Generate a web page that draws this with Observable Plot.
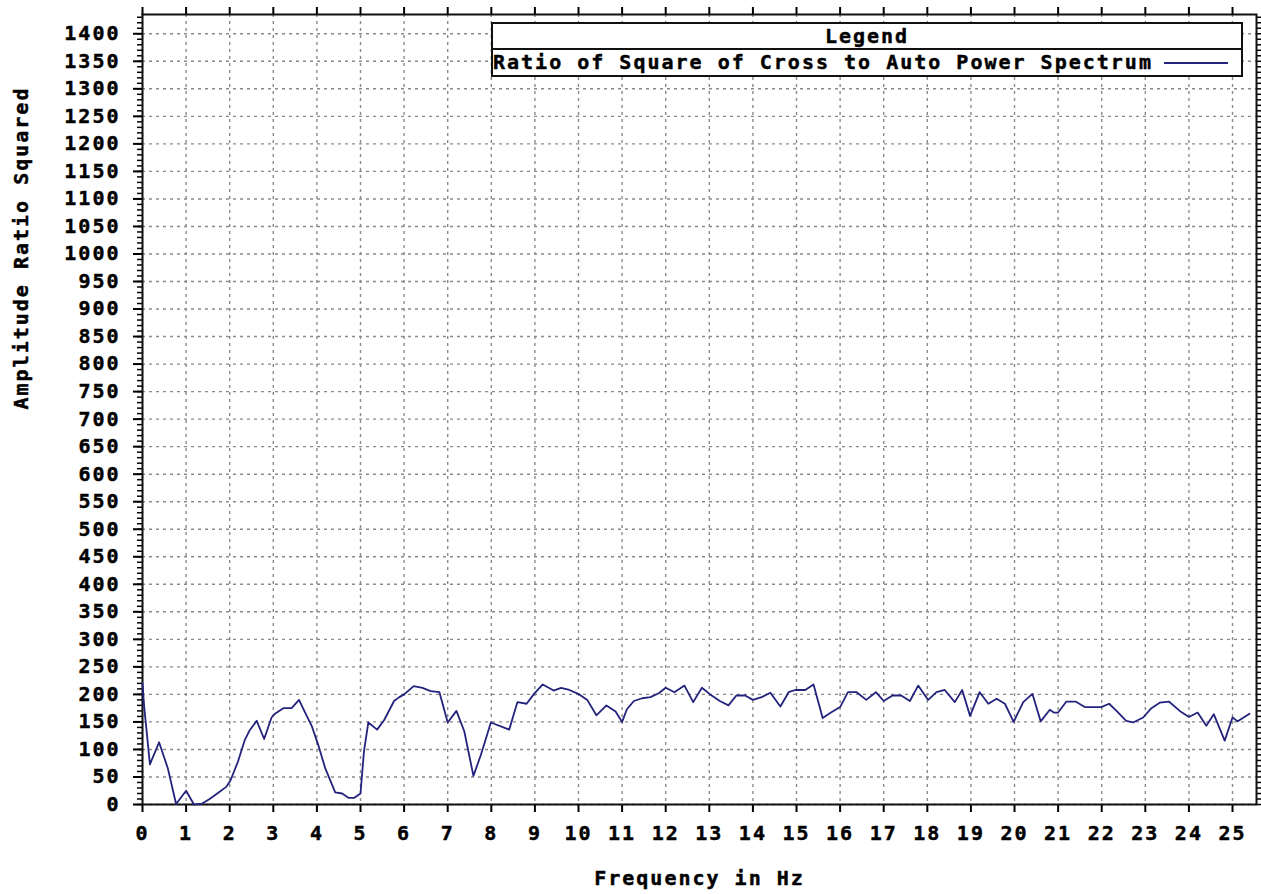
<!DOCTYPE html>
<html>
<head>
<meta charset="utf-8">
<script src="https://cdn.jsdelivr.net/npm/d3@7"></script>
<script src="https://cdn.jsdelivr.net/npm/@observablehq/plot@0.6"></script>
<style>
  html, body { margin: 0; padding: 0; background: #fff; }
  #chart { position: relative; width: 1261px; height: 894px; }
  #chart svg text { stroke: #000; stroke-width: 0.45px; }
  .legend {
    position: absolute; left: 491px; top: 22px; width: 748px;
    border: 2px solid #111; background: #fff;
    font-family: "DejaVu Sans Mono", monospace; font-size: 20px; font-weight: bold;
    letter-spacing: 2px; color: #000; -webkit-text-stroke: 0.45px #000;
  }
  .legend .head { height: 24px; line-height: 25px; text-align: center; border-bottom: 2px solid #111; }
  .legend .row { height: 25px; line-height: 25px; position: relative; padding-left: 0; }
  .legend .swatch { position: absolute; right: 13px; top: 12px; width: 64px; height: 0; border-top: 2px solid #23237d; }
</style>
</head>
<body>
<div id="chart"></div>
<script>
// Spectrum bins: frequency (Hz) and squared cross/auto amplitude ratio
const freqHz = [
  0, 0.04, 0.09, 0.17, 0.38, 0.58, 0.77, 1.0, 1.18, 1.35, 1.54, 1.73, 1.92, 2.02, 2.19, 2.35, 2.46, 2.62, 2.79, 2.96,
  3.04, 3.23, 3.42, 3.59, 3.73, 3.88, 4.04, 4.19, 4.42, 4.58, 4.73, 4.85, 5.0, 5.08, 5.18, 5.38, 5.54, 5.77, 5.89, 6.0,
  6.22, 6.42, 6.61, 6.81, 7.0, 7.2, 7.38, 7.59, 7.76, 7.99, 8.41, 8.6, 8.81, 8.98, 9.18, 9.43, 9.6, 9.79, 10.02, 10.2,
  10.41, 10.64, 10.85, 11.0, 11.11, 11.27, 11.46, 11.65, 11.84, 12.0, 12.2, 12.43, 12.63, 12.83, 13.02, 13.24, 13.44, 13.62, 13.82, 14.0,
  14.2, 14.4, 14.63, 14.82, 14.97, 15.2, 15.39, 15.6, 15.79, 16.0, 16.18, 16.38, 16.6, 16.82, 17.0, 17.2, 17.4, 17.6, 17.79, 18.02,
  18.21, 18.4, 18.63, 18.8, 18.98, 19.2, 19.4, 19.59, 19.78, 19.98, 20.2, 20.41, 20.6, 20.81, 20.9, 21.0, 21.19, 21.4, 21.61, 21.99,
  22.17, 22.34, 22.56, 22.72, 22.95, 23.14, 23.33, 23.54, 23.79, 24.0, 24.2, 24.4, 24.57, 24.82, 25.0, 25.12, 25.39
];
const ratioSquared = [
  220, 176, 137, 73, 113, 66, 1, 25, 0, 1, 10, 21, 32, 44, 78, 118, 135, 152, 119, 158,
  165, 175, 175, 190, 167, 143, 106, 66, 22, 20, 12, 12, 20, 97, 149, 136, 153, 188, 195, 200,
  215, 212, 206, 204, 149, 170, 133, 52, 90, 149, 136, 186, 183, 201, 218, 207, 212, 208, 200, 190,
  162, 180, 169, 150, 173, 188, 193, 195, 202, 212, 204, 216, 186, 212, 200, 188, 180, 198, 198, 190,
  195, 203, 178, 204, 208, 208, 218, 157, 167, 177, 204, 204, 190, 204, 188, 198, 198, 188, 216, 190,
  204, 208, 186, 208, 161, 204, 183, 192, 183, 150, 186, 201, 151, 172, 167, 167, 187, 187, 177, 177,
  183, 170, 152, 149, 158, 175, 185, 187, 170, 159, 167, 143, 164, 116, 158, 151, 165
];

// Axis ticks
const xTicks = [0, 1, 2, 3, 4, 5, 6, 7, 8, 9, 10, 11, 12, 13, 14, 15, 16, 17, 18, 19, 20, 21, 22, 23, 24, 25];
const yTicks = [0, 50, 100, 150, 200, 250, 300, 350, 400, 450, 500, 550, 600, 650, 700,
  750, 800, 850, 900, 950, 1000, 1050, 1100, 1150, 1200, 1250, 1300, 1350, 1400];
const yMinor = d3.range(0, 1431, 10);

const xTitle = "Frequency in Hz";
const yTitle = "Amplitude Ratio Squared";
const seriesName = "Ratio of Square of Cross to Auto Power Spectrum";

const rows = freqHz.map((f, i) => ({f, v: ratioSquared[i]}));
const lineColor = "#23237d";
const gridStyle = {stroke: "#8a8a8a", strokeOpacity: 1, strokeDasharray: "3,4", strokeWidth: 1.4};

const chart = Plot.plot({
  width: 1261,
  height: 894,
  marginLeft: 142,
  marginRight: 5,
  marginTop: 14,
  marginBottom: 90,
  x: {domain: [0, 25.55]},
  y: {domain: [0, 1435]},
  style: {
    fontFamily: "'DejaVu Sans Mono', monospace",
    fontSize: "20px",
    fontWeight: "bold",
    letterSpacing: "2px",
    color: "#000",
    background: "#fff"
  },
  marks: [
    Plot.gridX({ticks: xTicks, ...gridStyle}),
    Plot.gridY({ticks: yTicks, ...gridStyle}),
    Plot.axisY({ticks: yMinor, anchor: "left", tickSize: 5, strokeWidth: 1.5, tickFormat: () => "", label: null}),
    Plot.axisY({ticks: yMinor, anchor: "right", tickSize: 5, strokeWidth: 1.5, tickFormat: () => "", label: null}),
    Plot.axisY({ticks: yTicks, anchor: "left", tickSize: 9, tickPadding: 13, strokeWidth: 2, tickFormat: d => String(d), label: null}),
    Plot.axisX({ticks: xTicks, anchor: "bottom", tickSize: 8, tickPadding: 13, strokeWidth: 2, tickFormat: d => String(d), label: null}),
    Plot.axisX({ticks: xTicks, anchor: "top", tickSize: 8, strokeWidth: 2, tickFormat: () => "", label: null}),
    Plot.frame({stroke: "#111", strokeWidth: 2}),
    Plot.line(rows, {x: "f", y: "v", stroke: lineColor, strokeWidth: 1.8}),
    Plot.text([xTitle], {text: d => d, frameAnchor: "bottom", dy: 74, lineAnchor: "middle"}),
    Plot.text([yTitle], {text: d => d, frameAnchor: "left", dx: -121, rotate: -90, lineAnchor: "middle"})
  ]
});

const host = document.getElementById("chart");
host.appendChild(chart);

// Legend box drawn over the upper right of the plot area
const legend = document.createElement("div");
legend.className = "legend";
legend.innerHTML = `<div class="head">Legend</div><div class="row"><span>${seriesName}</span><span class="swatch"></span></div>`;
host.appendChild(legend);
</script>
</body>
</html>
